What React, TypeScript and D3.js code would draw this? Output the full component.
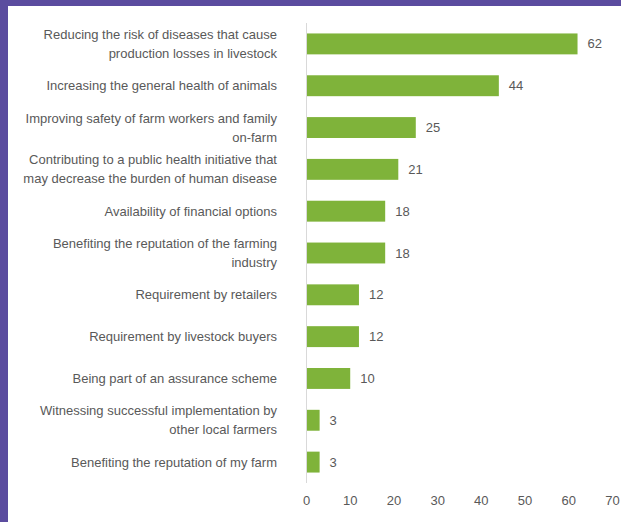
import React from "react";
import * as d3 from "d3";

const categories: string[][] = [
  ["Reducing the risk of diseases that cause", "production losses in livestock"],
  ["Increasing the general health of animals"],
  ["Improving safety of farm workers and family", "on-farm"],
  ["Contributing to a public health initiative that", "may decrease the burden of human disease"],
  ["Availability of financial options"],
  ["Benefiting the reputation of the farming", "industry"],
  ["Requirement by retailers"],
  ["Requirement by livestock buyers"],
  ["Being part of an assurance scheme"],
  ["Witnessing successful implementation by", "other local farmers"],
  ["Benefiting the reputation of my farm"],
];
const values: number[] = [62, 44, 25, 21, 18, 18, 12, 12, 10, 3, 3];
const ticks: number[] = [0, 10, 20, 30, 40, 50, 60, 70];

const W = 621;
const H = 522;
const FONT = "'Liberation Sans Narrow', 'Liberation Sans', Arial, sans-serif";
const TEXT = "#595959";

export default function App() {
  const x = d3.scaleLinear().domain([0, 70]).range([306.5, 612.5]);
  const ids = categories.map((_, i) => String(i));
  const y = d3.scaleBand().domain(ids).range([23, 483]).paddingInner(0.5).paddingOuter(0.25);
  const bw = y.bandwidth();
  return (
    <svg width={W} height={H} style={{ position: "absolute", left: 0, top: 0 }} fontFamily={FONT}>
      <rect x={0} y={0} width={W} height={H} fill="#ffffff" />
      <rect x={0} y={0} width={W} height={6} fill="#5b4c9f" />
      <rect x={0} y={0} width={8} height={H} fill="#5b4c9f" />
      {categories.map((lines, i) => {
        const yc = (y(String(i)) as number) + bw / 2;
        return (
          <g key={i}>
            <rect x={x(0)} y={yc - bw / 2} width={x(values[i]) - x(0)} height={bw} fill="#7fb33a" />
            <text x={x(values[i]) + 10} y={yc} dy="0.35em" fontSize={13} fill={TEXT}>
              {values[i]}
            </text>
            {lines.map((ln, j) => (
              <text
                key={j}
                x={277}
                y={yc + (j - (lines.length - 1) / 2) * 19}
                dy="0.35em"
                textAnchor="end"
                fontSize={13}
                fill={TEXT}
              >
                {ln}
              </text>
            ))}
          </g>
        );
      })}
      <line x1={x(0)} x2={x(0)} y1={23} y2={483} stroke="#d9d9d9" strokeWidth={1} />
      {ticks.map((t) => (
        <text key={t} x={x(t)} y={500} dy="0.35em" textAnchor="middle" fontSize={13} fill={TEXT}>
          {t}
        </text>
      ))}
    </svg>
  );
}
